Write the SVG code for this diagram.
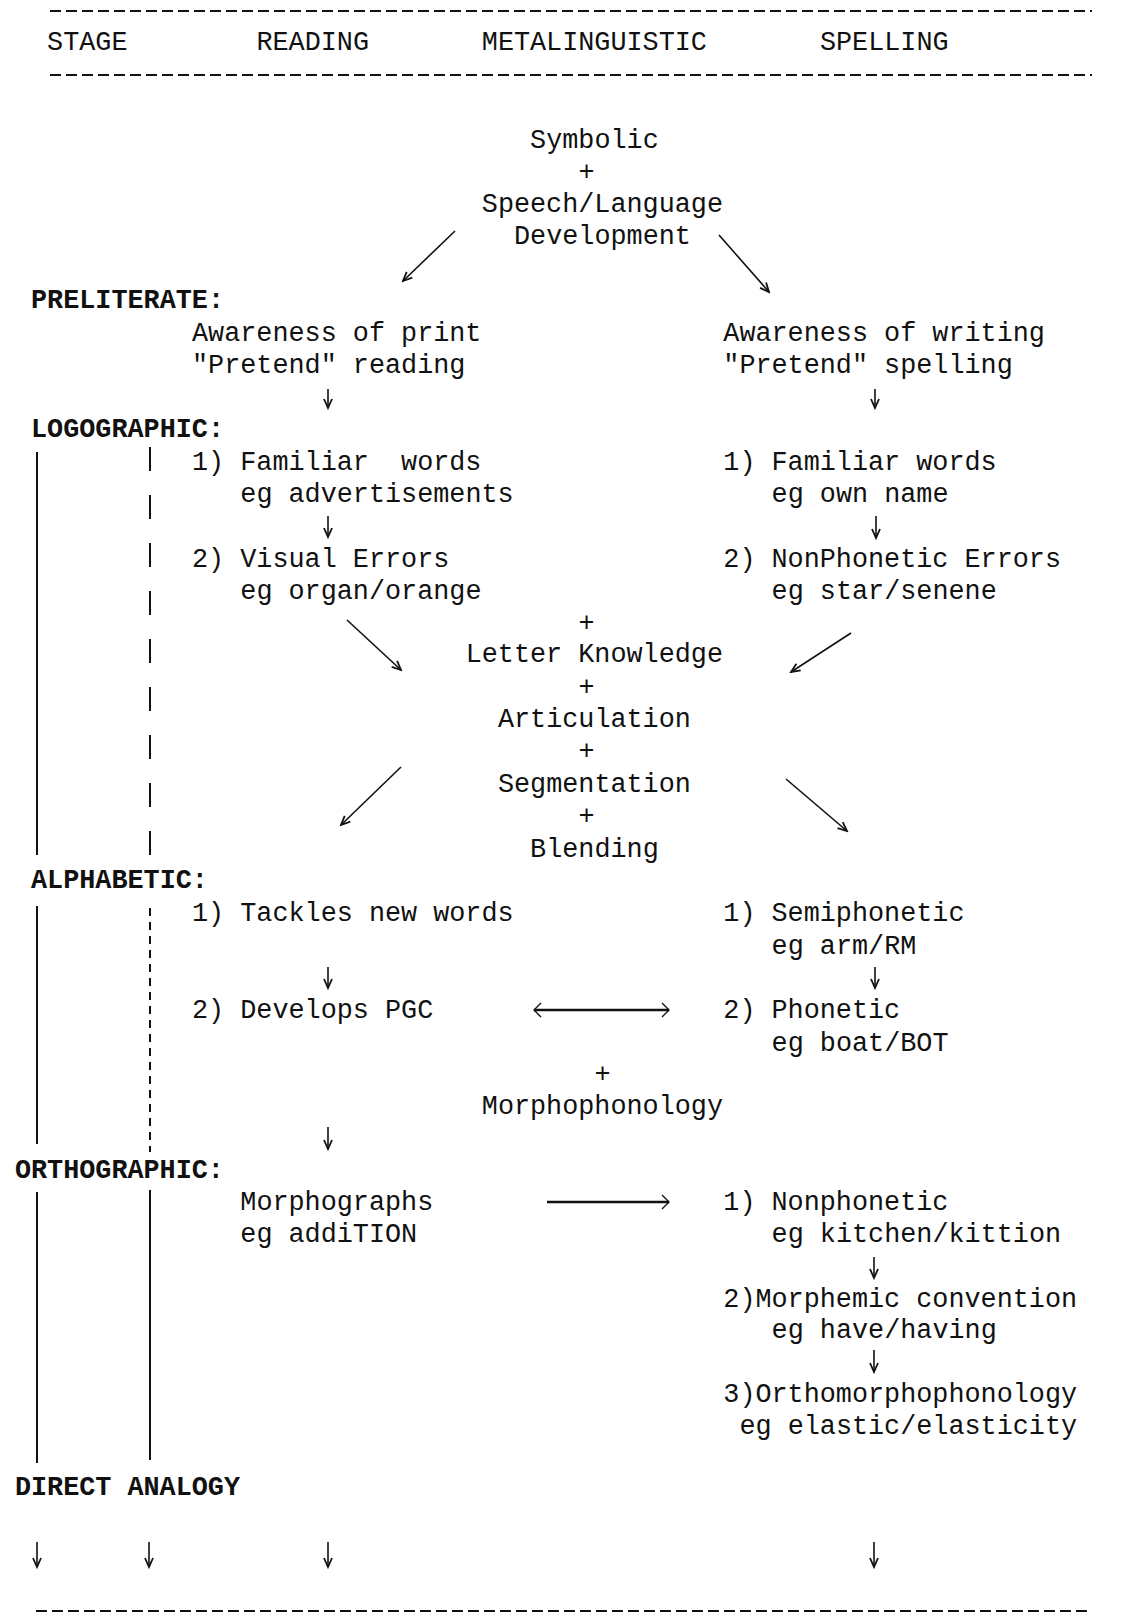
<svg xmlns="http://www.w3.org/2000/svg" width="1126" height="1618" viewBox="0 0 1126 1618">
  <style>
    text { font-family: "Liberation Mono", "DejaVu Sans Mono", monospace; font-size: 26.8px; fill: #111; white-space: pre; }
    .stage { font-weight: bold; }
    .rule { stroke: #111; stroke-width: 2; stroke-dasharray: 11 5; fill: none; }
    .conn { stroke: #111; stroke-width: 1.6; fill: none; }
    .bar { stroke: #111; stroke-width: 2; fill: none; }
    .dash-wide { stroke-dasharray: 24 24; }
    .dash-fine { stroke-dasharray: 8 6; }
    .thick { stroke-width: 2.4; }
  </style>
  <defs>
    <marker id="head" viewBox="-11 -6 13 12" refX="0" refY="0" markerWidth="13" markerHeight="12" markerUnits="userSpaceOnUse" orient="auto">
      <path d="M-9,-4 L0,0 L-9,4" fill="none" stroke="#111" stroke-width="1.8"/>
    </marker>
    <marker id="chev" viewBox="-9 -9 11 18" refX="0" refY="0" markerWidth="11" markerHeight="18" markerUnits="userSpaceOnUse" orient="auto-start-reverse">
      <path d="M-7,-7 L0,0 L-7,7" fill="none" stroke="#111" stroke-width="1.4"/>
    </marker>
  </defs>

  <rect width="1126" height="1618" fill="#fff"/>

  <!-- header band -->
  <g id="header">
    <line class="rule" x1="50" y1="11" x2="1092" y2="11"/>
    <text x="47.1" y="50">STAGE</text>
    <text x="256.4" y="50">READING</text>
    <text x="481.8" y="50">METALINGUISTIC</text>
    <text x="819.9" y="50">SPELLING</text>
    <line class="rule" x1="50" y1="75" x2="1092" y2="75"/>
  </g>

  <!-- stage labels -->
  <g id="stage-preliterate"><text class="stage" x="31" y="308.3">PRELITERATE:</text></g>
  <g id="stage-logographic"><text class="stage" x="31" y="437.3">LOGOGRAPHIC:</text></g>
  <g id="stage-alphabetic"><text class="stage" x="31" y="888.3">ALPHABETIC:</text></g>
  <g id="stage-orthographic"><text class="stage" x="14.9" y="1178.3">ORTHOGRAPHIC:</text></g>
  <g id="stage-direct-analogy"><text class="stage" x="14.9" y="1495">DIRECT ANALOGY</text></g>

  <!-- metalinguistic column -->
  <g id="symbolic">
    <text x="530.1" y="147.5">Symbolic</text>
    <text x="578.4" y="179.5">+</text>
    <text x="481.8" y="212.3">Speech/Language</text>
    <text x="514" y="244.3">Development</text>
  </g>
  <g id="letter-skills">
    <text x="578.4" y="631.3">+</text>
    <text x="465.7" y="662.3">Letter Knowledge</text>
    <text x="578.4" y="695.3">+</text>
    <text x="497.9" y="727.3">Articulation</text>
    <text x="578.4" y="759.3">+</text>
    <text x="497.9" y="792.3">Segmentation</text>
    <text x="578.4" y="824.3">+</text>
    <text x="530.1" y="857.3">Blending</text>
  </g>
  <g id="morphophonology">
    <text x="594.5" y="1082.3">+</text>
    <text x="481.8" y="1114.3">Morphophonology</text>
  </g>

  <!-- reading column -->
  <g id="read-preliterate">
    <text x="192" y="341.3">Awareness of print</text>
    <text x="192" y="373.3">"Pretend" reading</text>
  </g>
  <g id="read-logo-1">
    <text x="192" y="470.3">1) Familiar  words</text>
    <text x="240.3" y="502.3">eg advertisements</text>
  </g>
  <g id="read-logo-2">
    <text x="192" y="567.3">2) Visual Errors</text>
    <text x="240.3" y="599.3">eg organ/orange</text>
  </g>
  <g id="read-alpha-1"><text x="192" y="921.3">1) Tackles new words</text></g>
  <g id="read-alpha-2"><text x="192" y="1018.3">2) Develops PGC</text></g>
  <g id="read-ortho">
    <text x="240.3" y="1210.3">Morphographs</text>
    <text x="240.3" y="1242.3">eg addiTION</text>
  </g>

  <!-- spelling column -->
  <g id="spell-preliterate">
    <text x="723.3" y="341.3">Awareness of writing</text>
    <text x="723.3" y="373.3">"Pretend" spelling</text>
  </g>
  <g id="spell-logo-1">
    <text x="723.3" y="470.3">1) Familiar words</text>
    <text x="771.6" y="502.3">eg own name</text>
  </g>
  <g id="spell-logo-2">
    <text x="723.3" y="567.3">2) NonPhonetic Errors</text>
    <text x="771.6" y="599.3">eg star/senene</text>
  </g>
  <g id="spell-alpha-1">
    <text x="723.3" y="921.3">1) Semiphonetic</text>
    <text x="771.6" y="954.3">eg arm/RM</text>
  </g>
  <g id="spell-alpha-2">
    <text x="723.3" y="1018.3">2) Phonetic</text>
    <text x="771.6" y="1051.3">eg boat/BOT</text>
  </g>
  <g id="spell-ortho-1">
    <text x="723.3" y="1210.3">1) Nonphonetic</text>
    <text x="771.6" y="1242.3">eg kitchen/kittion</text>
  </g>
  <g id="spell-ortho-2">
    <text x="723.3" y="1307.3">2)Morphemic convention</text>
    <text x="771.6" y="1338.3">eg have/having</text>
  </g>
  <g id="spell-ortho-3">
    <text x="723.3" y="1402.3">3)Orthomorphophonology</text>
    <text x="739.4" y="1434.3">eg elastic/elasticity</text>
  </g>

  <!-- connectors -->
  <g id="connectors">
    <!-- stage bars: direct (solid) and analogy -->
    <line class="bar" x1="37" y1="452" x2="37" y2="855"/>
    <line class="bar dash-wide" x1="150" y1="447" x2="150" y2="860"/>
    <line class="bar" x1="37" y1="906" x2="37" y2="1144"/>
    <line class="bar dash-fine" x1="150" y1="908" x2="150" y2="1152"/>
    <line class="bar" x1="37" y1="1192" x2="37" y2="1463"/>
    <line class="bar" x1="150" y1="1190" x2="150" y2="1460"/>

    <!-- symbolic to preliterate -->
    <line class="conn" x1="455" y1="231" x2="403" y2="281" marker-end="url(#head)"/>
    <line class="conn" x1="719" y1="235" x2="769" y2="292" marker-end="url(#head)"/>

    <!-- preliterate to logographic -->
    <line class="conn" x1="328" y1="389" x2="328" y2="408" marker-end="url(#head)"/>
    <line class="conn" x1="875" y1="389" x2="875" y2="408" marker-end="url(#head)"/>

    <!-- within logographic -->
    <line class="conn" x1="328" y1="516" x2="328" y2="537" marker-end="url(#head)"/>
    <line class="conn" x1="876" y1="516" x2="876" y2="538" marker-end="url(#head)"/>

    <!-- into and out of letter skills -->
    <line class="conn" x1="347" y1="620" x2="401" y2="670" marker-end="url(#head)"/>
    <line class="conn" x1="851" y1="633" x2="791" y2="672" marker-end="url(#head)"/>
    <line class="conn" x1="401" y1="767" x2="341" y2="825" marker-end="url(#head)"/>
    <line class="conn" x1="786" y1="779" x2="847" y2="831" marker-end="url(#head)"/>

    <!-- within alphabetic -->
    <line class="conn" x1="328" y1="967" x2="328" y2="988" marker-end="url(#head)"/>
    <line class="conn" x1="875" y1="967" x2="875" y2="988" marker-end="url(#head)"/>
    <line class="conn thick" x1="534" y1="1010" x2="669" y2="1010" marker-start="url(#chev)" marker-end="url(#chev)"/>

    <!-- alphabetic to orthographic -->
    <line class="conn" x1="328" y1="1127" x2="328" y2="1149" marker-end="url(#head)"/>

    <!-- within orthographic -->
    <line class="conn thick" x1="547" y1="1202" x2="669" y2="1202" marker-end="url(#chev)"/>
    <line class="conn" x1="874" y1="1257" x2="874" y2="1278" marker-end="url(#head)"/>
    <line class="conn" x1="874" y1="1350" x2="874" y2="1372" marker-end="url(#head)"/>

    <!-- onward -->
    <line class="conn" x1="37" y1="1542" x2="37" y2="1567" marker-end="url(#head)"/>
    <line class="conn" x1="149" y1="1542" x2="149" y2="1567" marker-end="url(#head)"/>
    <line class="conn" x1="328" y1="1542" x2="328" y2="1567" marker-end="url(#head)"/>
    <line class="conn" x1="874" y1="1542" x2="874" y2="1567" marker-end="url(#head)"/>
  </g>

  <g id="footer">
    <line class="rule" x1="36" y1="1611" x2="1092" y2="1611"/>
  </g>
</svg>
